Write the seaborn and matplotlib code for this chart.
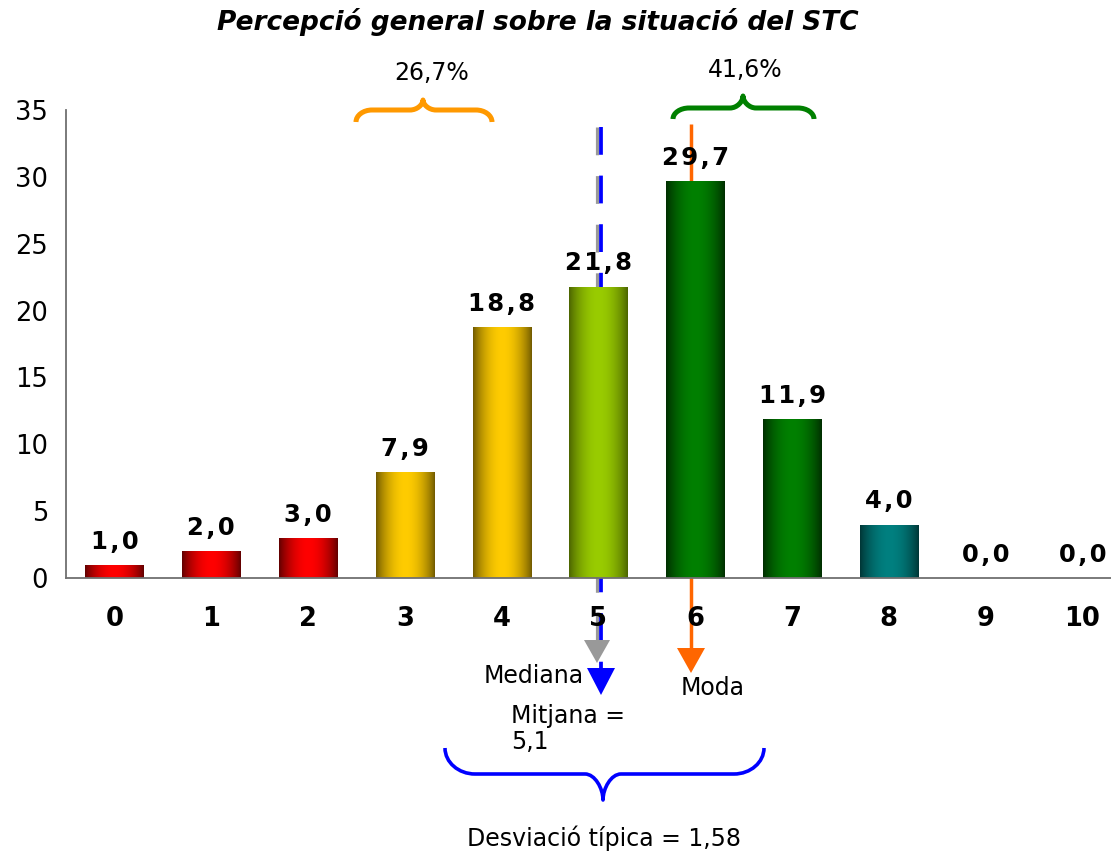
import numpy as np
import matplotlib
matplotlib.use("Agg")
import matplotlib.pyplot as plt
import seaborn as sns
from matplotlib.path import Path
from matplotlib.patches import PathPatch, Polygon
import matplotlib.colors as mcolors

# ---------------- data ----------------
categories = ["0", "1", "2", "3", "4", "5", "6", "7", "8", "9", "10"]
values = [1.0, 2.0, 3.0, 7.9, 18.8, 21.8, 29.7, 11.9, 4.0, 0.0, 0.0]
title = "Percepció general sobre la situació del STC"
low_pct_label = "26,7%"
high_pct_label = "41,6%"
median_label = "Mediana"
mode_label = "Moda"
mean_label = "Mitjana =\n5,1"
sd_label = "Desviació típica = 1,58"
yticks = [0, 5, 10, 15, 20, 25, 30, 35]

# ---------------- styles ----------------
bright = ["#FF0000", "#FF0000", "#FF0000", "#FFCC00", "#FFCC00", "#99CC00",
          "#008000", "#008000", "#008080", "#008080", "#008080"]
dark = ["#5E0000", "#5E0000", "#5E0000", "#6E5800", "#6E5800", "#4A6200",
        "#002C00", "#002C00", "#003434", "#003434", "#003434"]

sns.set_style("white")
plt.rcParams["font.family"] = ["DejaVu Sans"]
plt.rcParams["lines.scale_dashes"] = False
for k in ["text.color", "axes.labelcolor", "xtick.labelcolor", "ytick.labelcolor"]:
    plt.rcParams[k] = "black"

W, H = 1111, 851
fig = plt.figure(figsize=(W / 100, H / 100), dpi=100)
AX_L, AX_B, AX_T = 66, 578, 110
STEP = 96.8
ax = fig.add_axes([AX_L / W, 1 - AX_B / H, (W - AX_L) / W, (AX_B - AX_T) / H])
ax.set_axisbelow(False)

sns.barplot(x=categories, y=values, order=categories, hue=categories,
            palette=dict(zip(categories, bright)), legend=False,
            width=0.6, ax=ax, saturation=1, linewidth=0, zorder=2)

xmax = -0.5 + (W - AX_L) / STEP
ax.set_xlim(-0.5, xmax)
ax.set_ylim(0, 35)

def px2x(px):
    return -0.5 + (px - AX_L) / STEP

def py2y(py):
    return (AX_B - py) * 35.0 / (AX_B - AX_T)

# gradient fill of bars
t = np.linspace(0, 1, 200)
prof = np.sin(np.pi * t) ** 0.8
for i, patch in enumerate(ax.patches):
    h = patch.get_height()
    if h <= 0:
        continue
    x0 = patch.get_x(); w = patch.get_width()
    c1 = np.array(mcolors.to_rgb(bright[i])); c0 = np.array(mcolors.to_rgb(dark[i]))
    img = c0[None, None, :] + (c1 - c0)[None, None, :] * prof[None, :, None]
    im = ax.imshow(img, extent=[x0, x0 + w, 0, h], aspect="auto",
                   interpolation="bilinear", zorder=2.1)
    im.set_clip_path(patch)
ax.set_xlim(-0.5, xmax)
ax.set_ylim(0, 35)

# value labels
for i, v in enumerate(values):
    s = f"{v:.1f}".replace(".", ",")
    s = "\u200a".join(list(s))
    ax.annotate(s, (i, v), xytext=(0, 8), textcoords="offset points",
                ha="center", va="bottom", fontsize=17.5, fontweight="bold",
                color="black", zorder=5)

# axes styling
for sp in ["top", "right"]:
    ax.spines[sp].set_visible(False)
for sp in ["left", "bottom"]:
    ax.spines[sp].set_color("#707070")
    ax.spines[sp].set_linewidth(1.3)
ax.set_xticks(range(len(categories)))
ax.set_xticklabels(categories, fontsize=18.5, fontweight="bold")
ax.set_xticks(np.arange(-0.5, xmax, 1.0), minor=True)
ax.tick_params(axis="x", which="major", length=0, pad=20, labelcolor="black")
ax.tick_params(axis="x", which="minor", length=6, width=1.3, color="#707070", direction="out")
ax.set_yticks(yticks)
ax.set_yticklabels([str(v) for v in yticks], fontsize=18.5)
ax.tick_params(axis="y", length=5, width=1.3, color="#707070", pad=8, direction="out",
               labelcolor="black")
ax.set_xlabel(""); ax.set_ylabel("")

# title
fig.text(538 / W, 1 - 22 / H, title, ha="center", va="center",
         fontsize=19, fontweight="bold", fontstyle="italic", color="black")

# reference lines (median, mean, mode)
def vline(px, y0, y1, color, lw, dashed):
    ln, = ax.plot([px2x(px), px2x(px)], [py2y(y0), py2y(y1)], color=color,
                  lw=lw, clip_on=False, zorder=1.5, solid_capstyle="butt",
                  dash_capstyle="butt")
    if dashed:
        ln.set_dashes((20, 15))

def tri(px, ytop, ybot, half, color):
    pts = [(px2x(px - half), py2y(ytop)), (px2x(px + half), py2y(ytop)),
           (px2x(px), py2y(ybot))]
    ax.add_patch(Polygon(pts, closed=True, color=color, clip_on=False, zorder=1.6, lw=0))

vline(597, 127, 642, "#999999", 2.3, True)
vline(601, 127, 670, "#0000FF", 2.7, True)
vline(691, 124, 650, "#FF6600", 2.5, False)
tri(597, 640, 663, 13, "#999999")
tri(601, 668, 695, 14, "#0000FF")
tri(691, 648, 673, 14, "#FF6600")

# braces (pixel coordinates converted to data)
K = 0.55
def brace(L, R, yb, ym, yt, C, re, rt, color, lw):
    pts = [(L, yb),
           (L, yb + K * (ym - yb)), (L + re * (1 - K), ym), (L + re, ym),
           (C - rt, ym),
           (C - rt * (1 - K), ym), (C, ym + K * (yt - ym)), (C, yt),
           (C, ym + K * (yt - ym)), (C + rt * (1 - K), ym), (C + rt, ym),
           (R - re, ym),
           (R - re * (1 - K), ym), (R, yb + K * (ym - yb)), (R, yb)]
    codes = [Path.MOVETO, Path.CURVE4, Path.CURVE4, Path.CURVE4, Path.LINETO,
             Path.CURVE4, Path.CURVE4, Path.CURVE4,
             Path.CURVE4, Path.CURVE4, Path.CURVE4, Path.LINETO,
             Path.CURVE4, Path.CURVE4, Path.CURVE4]
    dpts = [(px2x(x), py2y(y)) for x, y in pts]
    ax.add_patch(PathPatch(Path(dpts, codes), fill=False, edgecolor=color,
                           lw=lw, clip_on=False, zorder=3, capstyle="butt",
                           joinstyle="round"))

brace(356, 492, 122, 110, 100, 423, 16, 13, "#FF9900", 3.6)
brace(673, 814, 119, 108, 96, 743, 16, 13, "#008000", 3.6)
brace(445, 764, 748, 774, 800, 603, 30, 18, "#0000FF", 2.6)

# annotation texts
def ptext(px, py, s, ha="center", va="center", **kw):
    ax.text(px2x(px), py2y(py), s, ha=ha, va=va, fontsize=17, clip_on=False,
            color="black", zorder=6, **kw)

ptext(432, 73, low_pct_label)
ptext(745, 70, high_pct_label)
ptext(584, 676, median_label, ha="right")
ptext(681, 688, mode_label, ha="left")
ptext(511, 729, mean_label, ha="left", linespacing=1.15)
ptext(604, 838, sd_label)

fig.savefig("out.png", dpi=100)
